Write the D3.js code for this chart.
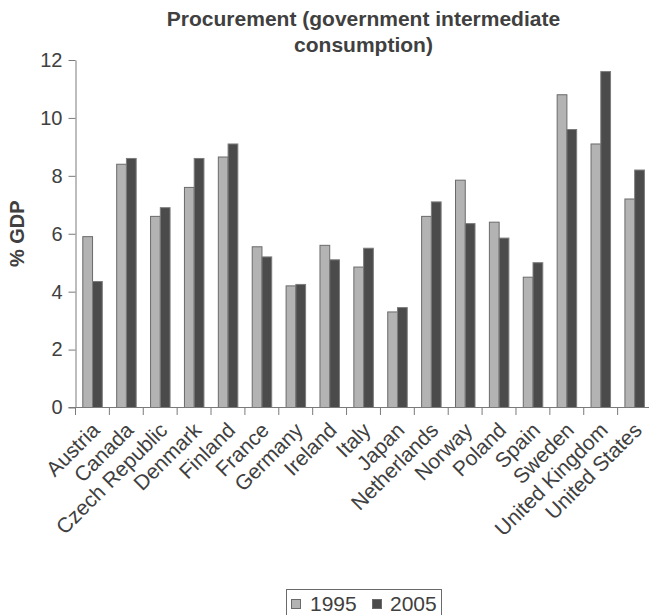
<!DOCTYPE html>
<html>
<head>
<meta charset="utf-8">
<script src="https://cdn.jsdelivr.net/npm/d3@7/dist/d3.min.js"></script>
<style>
  html, body { margin: 0; padding: 0; background: #fff; }
  svg { display: block; font-family: "Liberation Sans", Arial, sans-serif; }
</style>
</head>
<body>
<svg id="chart" width="649" height="615"></svg>
<script>
// Government intermediate consumption as % of GDP
const countries = ["Austria", "Canada", "Czech Republic", "Denmark", "Finland", "France",
  "Germany", "Ireland", "Italy", "Japan", "Netherlands", "Norway", "Poland", "Spain",
  "Sweden", "United Kingdom", "United States"];
const years = ["1995", "2005"];
const values1995 = [5.9, 8.4, 6.6, 7.6, 8.65, 5.55, 4.2, 5.6, 4.85, 3.3, 6.6, 7.85, 6.4, 4.5, 10.8, 9.1, 7.2];
const values2005 = [4.35, 8.6, 6.9, 8.6, 9.1, 5.2, 4.25, 5.1, 5.5, 3.45, 7.1, 6.35, 5.85, 5.0, 9.6, 11.6, 8.2];
const yTicks = [0, 2, 4, 6, 8, 10, 12];
const titleLines = ["Procurement (government intermediate", "consumption)"];
const yLabel = "% GDP";

const series = { "1995": values1995, "2005": values2005 };
const fills = { "1995": "#b3b3b3", "2005": "#4b4b4b" };
const textColor = "#404040";
const axisColor = "#7a7a7a";

const svg = d3.select("#chart");
const plotLeft = 75.5, plotRight = 651.5, plotTop = 60, plotBottom = 407.5;

const x = d3.scaleBand().domain(countries).range([plotLeft, plotRight]).paddingInner(0).paddingOuter(0);
const x1 = d3.scaleBand().domain(years).range([7.3, 26.8]);
const y = d3.scaleLinear().domain([0, 12]).range([plotBottom, plotTop]);

// Title
const cx = (plotLeft + plotRight) / 2;
svg.append("text")
  .attr("x", cx).attr("y", 26)
  .attr("text-anchor", "middle")
  .attr("font-size", 21).attr("font-weight", "bold").attr("fill", textColor)
  .selectAll("tspan").data(titleLines).join("tspan")
  .attr("x", cx).attr("dy", (d, i) => i === 0 ? 0 : 26)
  .text(d => d);

// Y axis label
svg.append("text")
  .attr("transform", `translate(24,${(plotTop + plotBottom) / 2}) rotate(-90)`)
  .attr("text-anchor", "middle")
  .attr("font-size", 20).attr("font-weight", "bold").attr("fill", textColor)
  .text(yLabel);

// Bars
const groups = svg.append("g").selectAll("g").data(countries).join("g")
  .attr("transform", d => `translate(${x(d)},0)`);
groups.selectAll("rect")
  .data((d, i) => years.map(yr => ({ yr, v: series[yr][i] })))
  .join("rect")
  .attr("x", d => x1(d.yr))
  .attr("width", x1.bandwidth())
  .attr("y", d => y(d.v))
  .attr("height", d => y(0) - y(d.v))
  .attr("fill", d => fills[d.yr])
  .attr("stroke", d => d.yr === "1995" ? "#6a6a6a" : "#7c7c7c")
  .attr("stroke-width", 1);

// Y axis
const yAxis = svg.append("g")
  .attr("transform", `translate(${plotLeft},0)`)
  .call(d3.axisLeft(y).tickValues(yTicks).tickSize(7).tickSizeOuter(0).tickPadding(6));
yAxis.select(".domain").attr("stroke", axisColor);
yAxis.selectAll(".tick line").attr("stroke", axisColor);
yAxis.selectAll(".tick text")
  .attr("font-size", 20).attr("fill", textColor).attr("font-family", "Liberation Sans, Arial, sans-serif");

// X axis: baseline with ticks at category boundaries
const xAxis = svg.append("g");
xAxis.append("line")
  .attr("x1", plotLeft - 7).attr("x2", plotRight)
  .attr("y1", plotBottom).attr("y2", plotBottom)
  .attr("stroke", axisColor);
const boundaries = countries.map(c => x(c)).concat([x.range()[1]]);
xAxis.selectAll("line.tk").data(boundaries).join("line")
  .attr("class", "tk")
  .attr("x1", d => d).attr("x2", d => d)
  .attr("y1", plotBottom).attr("y2", plotBottom + 7.5)
  .attr("stroke", axisColor);
xAxis.selectAll("text").data(countries).join("text")
  .attr("transform", d => `translate(${x(d) + x.bandwidth() / 2 + 8.5},${plotBottom + 24}) rotate(-45)`)
  .attr("text-anchor", "end")
  .attr("font-size", 21).attr("fill", textColor)
  .text(d => d);

// Legend
const legend = svg.append("g");
legend.append("rect")
  .attr("x", 286.5).attr("y", 589.5).attr("width", 155).attr("height", 30)
  .attr("fill", "none").attr("stroke", "#6a6a6a");
const legendItems = [{ yr: "1995", sx: 291, tx: 310 }, { yr: "2005", sx: 372, tx: 390 }];
legend.selectAll("rect.sw").data(legendItems).join("rect")
  .attr("class", "sw")
  .attr("x", d => d.sx + 0.5).attr("y", 599.5).attr("width", 9).attr("height", 9)
  .attr("fill", d => fills[d.yr]).attr("stroke", "#6a6a6a");
legend.selectAll("text").data(legendItems).join("text")
  .attr("x", d => d.tx).attr("y", 611)
  .attr("font-size", 21).attr("fill", textColor)
  .text(d => d.yr);
</script>
</body>
</html>
